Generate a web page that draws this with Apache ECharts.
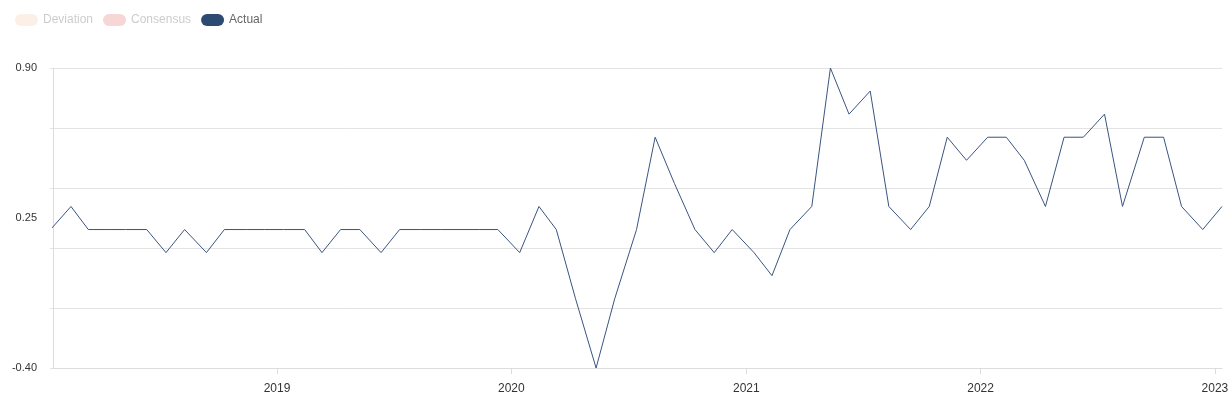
<!DOCTYPE html>
<html>
<head>
<meta charset="utf-8">
<script src="https://cdn.jsdelivr.net/npm/echarts@6/dist/echarts.min.js"></script>
<style>
html,body{margin:0;padding:0;background:#fff;}
#chart{width:1232px;height:400px;}
</style>
</head>
<body>
<div id="chart"></div>
<script>
// ---- data ----
const dates = [
  '2018-01-10','2018-02-14','2018-03-13','2018-04-11','2018-05-10','2018-06-12','2018-07-12','2018-08-10','2018-09-13','2018-10-11','2018-11-14','2018-12-12',
  '2019-01-11','2019-02-13','2019-03-12','2019-04-10','2019-05-10','2019-06-12','2019-07-11','2019-08-13','2019-09-12','2019-10-10','2019-11-13','2019-12-11',
  '2020-01-14','2020-02-13','2020-03-11','2020-04-10','2020-05-12','2020-06-10','2020-07-14','2020-08-12','2020-09-11','2020-10-13','2020-11-12','2020-12-10',
  '2021-01-13','2021-02-10','2021-03-10','2021-04-13','2021-05-12','2021-06-10','2021-07-13','2021-08-11','2021-09-14','2021-10-13','2021-11-10','2021-12-10',
  '2022-01-12','2022-02-10','2022-03-10','2022-04-12','2022-05-11','2022-06-10','2022-07-13','2022-08-10','2022-09-13','2022-10-13','2022-11-10','2022-12-13',
  '2023-01-12'
];
const actual = [
  0.19, 0.3, 0.2, 0.2, 0.2, 0.2, 0.1, 0.2, 0.1, 0.2, 0.2, 0.2,
  0.2, 0.2, 0.1, 0.2, 0.2, 0.1, 0.2, 0.2, 0.2, 0.2, 0.2, 0.2,
  0.1, 0.3, 0.2, -0.1, -0.4, -0.1, 0.2, 0.6, 0.4, 0.2, 0.1, 0.2,
  0.1, 0.0, 0.2, 0.3, 0.9, 0.7, 0.8, 0.3, 0.2, 0.3, 0.6, 0.5,
  0.6, 0.6, 0.5, 0.3, 0.6, 0.6, 0.7, 0.3, 0.6, 0.6, 0.3, 0.2,
  0.3
];
const seriesNames = ['Deviation', 'Consensus', 'Actual'];
const yLabelValues = [-0.40, 0.25, 0.90];
const xMin = '2018-01-17';

// ---- chart ----
const FONT = '"Liberation Sans", Arial, sans-serif';
const pill = 'path://M6 0H17A6 6 0 0 1 17 12H6A6 6 0 0 1 6 0Z';
const DAY = 24 * 3600 * 1000;
const lineData = dates.map((d, i) => [d, actual[i]]);

const chart = echarts.init(document.getElementById('chart'), null, {renderer: 'canvas'});
chart.setOption({
  animation: false,
  textStyle: {fontFamily: FONT},
  legend: {
    left: 10,
    top: 9,
    icon: pill,
    itemWidth: 23,
    itemHeight: 12,
    itemGap: 10,
    itemTextGap: 4,
    textStyle: {fontFamily: FONT, fontSize: 12, color: '#666'},
    data: [
      {name: seriesNames[0], itemStyle: {color: '#fcefe5'}, textStyle: {color: '#cccccc'}},
      {name: seriesNames[1], itemStyle: {color: '#f6d7d6'}, textStyle: {color: '#cccccc'}},
      {name: seriesNames[2], itemStyle: {color: '#2d4a73'}, textStyle: {color: '#666'}}
    ]
  },
  grid: {left: 53, right: 10, top: 68, bottom: 32, containLabel: false},
  xAxis: {
    type: 'time',
    min: xMin,
    max: dates[dates.length - 1],
    minInterval: 365 * DAY,
    maxInterval: 366 * DAY,
    axisLine: {show: true, onZero: false, lineStyle: {color: '#dcdcdc', width: 1}},
    axisTick: {show: true, length: 6, lineStyle: {color: '#dcdcdc'}},
    axisLabel: {
      margin: 15,
      fontSize: 12,
      color: '#333',
      fontFamily: FONT,
      showMinLabel: false,
      showMaxLabel: false,
      formatter: '{yyyy}'
    },
    splitLine: {show: false}
  },
  yAxis: {
    type: 'value',
    min: -0.4,
    max: 0.9,
    interval: 0.26,
    axisLine: {show: true, lineStyle: {color: '#dcdcdc', width: 1}},
    axisTick: {show: true, length: 3, lineStyle: {color: '#e3e3e3'}},
    axisLabel: {
      customValues: yLabelValues,
      margin: 16,
      fontSize: 11,
      color: '#333',
      fontFamily: FONT,
      formatter: v => Number(v).toFixed(2)
    },
    splitLine: {show: true, lineStyle: {color: '#e3e3e3', width: 1}}
  },
  series: [
    {name: seriesNames[0], type: 'line', data: [], itemStyle: {color: '#fcefe5'}},
    {name: seriesNames[1], type: 'line', data: [], itemStyle: {color: '#f6d7d6'}},
    {
      name: seriesNames[2],
      type: 'line',
      data: lineData,
      showSymbol: false,
      symbol: 'none',
      clip: false,
      itemStyle: {color: '#2d4a73'},
      lineStyle: {color: '#3a5480', width: 1}
    }
  ]
});
</script>
</body>
</html>
